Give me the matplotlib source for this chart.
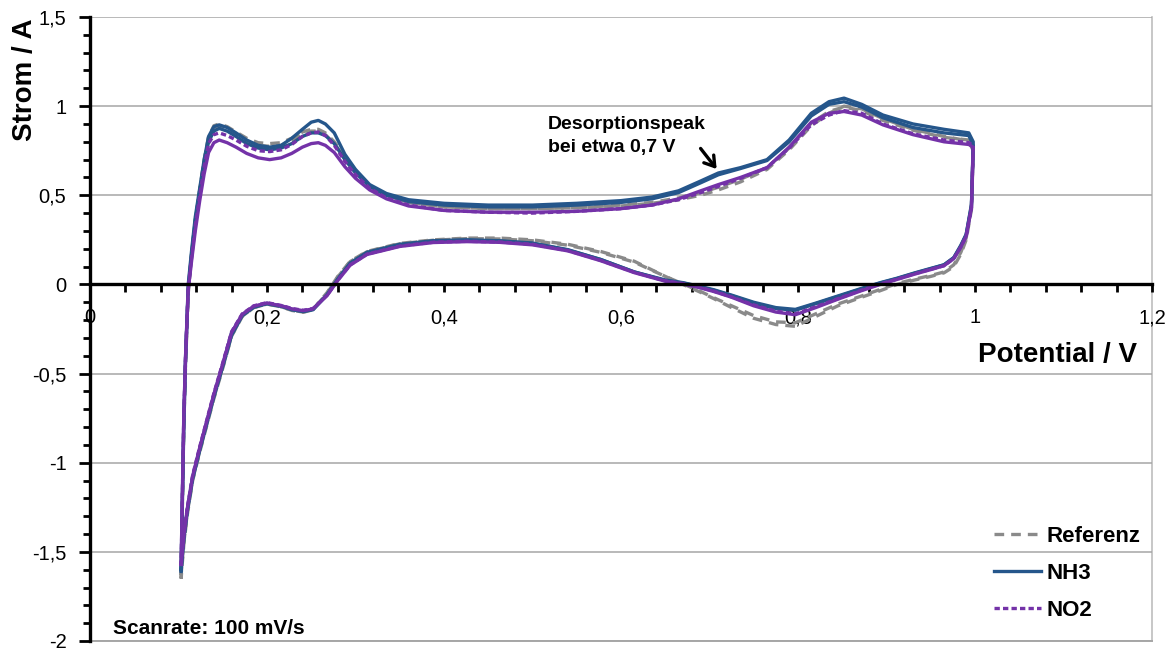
import matplotlib
matplotlib.use("Agg")
import matplotlib.pyplot as plt
from matplotlib.ticker import MultipleLocator, FuncFormatter

plt.rcParams['font.family'] = ['Liberation Sans', 'DejaVu Sans']

# ---- Potential grids (V) ----
potential_anodic = [0.103, 0.104, 0.106, 0.108, 0.111, 0.115, 0.119, 0.124, 0.129, 0.134,
                    0.140, 0.146, 0.155, 0.165, 0.177, 0.190, 0.203, 0.216, 0.228, 0.240,
                    0.250, 0.258, 0.266, 0.276, 0.288, 0.300, 0.316, 0.335, 0.360, 0.400,
                    0.450, 0.500, 0.550, 0.600, 0.635, 0.665, 0.690, 0.710, 0.735, 0.765,
                    0.790, 0.815, 0.835, 0.852, 0.872, 0.896, 0.930, 0.965, 0.993]
potential_cathodic = [0.998, 0.996, 0.990, 0.984, 0.976, 0.965, 0.950, 0.932, 0.912, 0.893,
                      0.870, 0.845, 0.820, 0.797, 0.775, 0.750, 0.725, 0.705, 0.688, 0.670,
                      0.650, 0.615, 0.577, 0.540, 0.500, 0.463, 0.426, 0.388, 0.350, 0.313,
                      0.294, 0.280, 0.268, 0.252, 0.241, 0.228, 0.218, 0.200, 0.185, 0.172,
                      0.160, 0.150, 0.140, 0.132, 0.124, 0.116, 0.110, 0.106, 0.104, 0.103]

# ---- Currents (A), two cycles per gas ----
ref_1_anodic = [-1.65, -1.35, -0.80, -0.45, -0.05, 0.17, 0.35, 0.53, 0.70, 0.83,
                0.89, 0.90, 0.885, 0.855, 0.82, 0.795, 0.79, 0.795, 0.82, 0.855,
                0.87, 0.87, 0.85, 0.80, 0.72, 0.64, 0.55, 0.50, 0.46, 0.435,
                0.425, 0.425, 0.43, 0.44, 0.455, 0.475, 0.50, 0.53, 0.575, 0.645,
                0.755, 0.89, 0.96, 1.0, 0.985, 0.93, 0.87, 0.83, 0.805]
ref_1_cathodic = [0.75, 0.42, 0.25, 0.17, 0.10, 0.065, 0.045, 0.025, 0.0, -0.035,
                  -0.075, -0.12, -0.18, -0.235, -0.225, -0.19, -0.13, -0.08, -0.04, 0.0,
                  0.045, 0.13, 0.185, 0.225, 0.25, 0.26, 0.26, 0.25, 0.23, 0.185,
                  0.13, 0.045, -0.045, -0.14, -0.155, -0.145, -0.128, -0.11, -0.13, -0.18,
                  -0.29, -0.47, -0.64, -0.79, -0.94, -1.10, -1.29, -1.46, -1.58, -1.65]
ref_2_anodic = [-1.63, -1.33, -0.78, -0.43, -0.03, 0.18, 0.36, 0.53, 0.69, 0.82,
                0.875, 0.885, 0.87, 0.84, 0.80, 0.78, 0.775, 0.78, 0.81, 0.845,
                0.86, 0.86, 0.84, 0.79, 0.71, 0.635, 0.55, 0.50, 0.46, 0.435,
                0.425, 0.425, 0.43, 0.445, 0.46, 0.485, 0.515, 0.545, 0.59, 0.655,
                0.765, 0.905, 0.97, 0.995, 0.975, 0.92, 0.865, 0.825, 0.81]
ref_2_cathodic = [0.77, 0.44, 0.26, 0.18, 0.11, 0.07, 0.05, 0.03, 0.005, -0.028,
                  -0.068, -0.11, -0.165, -0.215, -0.21, -0.175, -0.12, -0.075, -0.035, 0.003,
                  0.045, 0.125, 0.18, 0.22, 0.245, 0.255, 0.257, 0.248, 0.228, 0.183,
                  0.128, 0.042, -0.048, -0.142, -0.156, -0.146, -0.128, -0.11, -0.13, -0.178,
                  -0.288, -0.465, -0.635, -0.785, -0.935, -1.095, -1.28, -1.45, -1.56, -1.63]

nh3_1_anodic = [-1.60, -1.30, -0.75, -0.40, 0.00, 0.20, 0.38, 0.54, 0.70, 0.83,
                0.885, 0.895, 0.88, 0.85, 0.81, 0.78, 0.77, 0.78, 0.82, 0.87,
                0.91, 0.92, 0.90, 0.85, 0.73, 0.645, 0.56, 0.51, 0.475, 0.455,
                0.445, 0.445, 0.455, 0.47, 0.49, 0.525, 0.58, 0.625, 0.655, 0.70,
                0.81, 0.96, 1.025, 1.045, 1.01, 0.95, 0.90, 0.87, 0.85]
nh3_1_cathodic = [0.80, 0.45, 0.28, 0.22, 0.15, 0.11, 0.09, 0.065, 0.035, 0.01,
                  -0.025, -0.065, -0.105, -0.14, -0.13, -0.10, -0.06, -0.03, -0.01, 0.01,
                  0.025, 0.07, 0.14, 0.195, 0.232, 0.245, 0.25, 0.245, 0.225, 0.18,
                  0.12, 0.03, -0.056, -0.14, -0.15, -0.14, -0.123, -0.106, -0.125, -0.17,
                  -0.27, -0.45, -0.62, -0.77, -0.92, -1.08, -1.26, -1.42, -1.53, -1.60]
nh3_2_anodic = [-1.60, -1.32, -0.80, -0.42, -0.02, 0.18, 0.36, 0.52, 0.68, 0.80,
                0.86, 0.875, 0.86, 0.83, 0.79, 0.765, 0.755, 0.765, 0.79, 0.83,
                0.85, 0.85, 0.835, 0.79, 0.70, 0.625, 0.55, 0.50, 0.465, 0.445,
                0.435, 0.435, 0.445, 0.46, 0.48, 0.515, 0.57, 0.615, 0.65, 0.695,
                0.80, 0.945, 1.01, 1.025, 0.995, 0.935, 0.88, 0.85, 0.835]
nh3_2_cathodic = [0.78, 0.44, 0.28, 0.215, 0.15, 0.11, 0.088, 0.063, 0.033, 0.008,
                  -0.028, -0.068, -0.108, -0.145, -0.135, -0.105, -0.063, -0.033, -0.012, 0.008,
                  0.022, 0.07, 0.14, 0.193, 0.23, 0.243, 0.248, 0.243, 0.222, 0.178,
                  0.118, 0.03, -0.058, -0.142, -0.152, -0.142, -0.125, -0.108, -0.128, -0.175,
                  -0.285, -0.46, -0.63, -0.78, -0.93, -1.09, -1.27, -1.43, -1.54, -1.61]

no2_1_anodic = [-1.58, -1.28, -0.74, -0.40, -0.02, 0.16, 0.33, 0.50, 0.66, 0.79,
                0.84, 0.85, 0.835, 0.81, 0.775, 0.75, 0.745, 0.755, 0.785, 0.83,
                0.85, 0.855, 0.835, 0.78, 0.69, 0.615, 0.54, 0.485, 0.445, 0.415,
                0.405, 0.40, 0.41, 0.425, 0.445, 0.475, 0.515, 0.55, 0.595, 0.655,
                0.765, 0.895, 0.95, 0.975, 0.96, 0.90, 0.845, 0.81, 0.795]
no2_1_cathodic = [0.78, 0.43, 0.27, 0.21, 0.145, 0.105, 0.085, 0.06, 0.03, 0.003,
                  -0.035, -0.08, -0.125, -0.165, -0.15, -0.115, -0.07, -0.038, -0.015, 0.005,
                  0.02, 0.068, 0.135, 0.19, 0.225, 0.238, 0.242, 0.237, 0.215, 0.17,
                  0.11, 0.025, -0.06, -0.135, -0.145, -0.135, -0.12, -0.102, -0.12, -0.165,
                  -0.265, -0.44, -0.61, -0.76, -0.91, -1.07, -1.25, -1.40, -1.51, -1.58]
no2_2_anodic = [-1.57, -1.27, -0.73, -0.40, -0.03, 0.14, 0.30, 0.47, 0.62, 0.74,
                0.795, 0.81, 0.795, 0.77, 0.735, 0.71, 0.70, 0.71, 0.735, 0.77,
                0.79, 0.795, 0.78, 0.74, 0.66, 0.595, 0.53, 0.48, 0.44, 0.415,
                0.405, 0.405, 0.41, 0.425, 0.445, 0.48, 0.525, 0.56, 0.60, 0.655,
                0.77, 0.91, 0.96, 0.97, 0.95, 0.895, 0.84, 0.80, 0.785]
no2_2_cathodic = [0.77, 0.43, 0.27, 0.21, 0.145, 0.105, 0.083, 0.058, 0.028, 0.0,
                  -0.038, -0.083, -0.13, -0.17, -0.155, -0.12, -0.072, -0.04, -0.017, 0.003,
                  0.018, 0.066, 0.133, 0.188, 0.222, 0.236, 0.24, 0.235, 0.213, 0.168,
                  0.108, 0.022, -0.062, -0.137, -0.147, -0.137, -0.122, -0.104, -0.122, -0.168,
                  -0.27, -0.445, -0.615, -0.765, -0.915, -1.075, -1.255, -1.41, -1.52, -1.57]

series_labels = ["Referenz", "NH3", "NO2"]
x_ticks = [0, 0.2, 0.4, 0.6, 0.8, 1.0, 1.2]
y_ticks = [-2, -1.5, -1, -0.5, 0, 0.5, 1, 1.5]

GRAY = "#8a8a8a"
BLUE = "#25568b"
PURPLE = "#7432a8"

W, H = 1173, 652
fig = plt.figure(figsize=(W / 100, H / 100), dpi=100)
ax = fig.add_axes([90 / W, 1 - 641 / H, (1152 - 90) / W, (641 - 17) / H])
ax.set_xlim(0, 1.2)
ax.set_ylim(-2, 1.5)


def loop(anodic, cathodic):
    return potential_anodic + potential_cathodic, anodic + cathodic


lw = 2.4
dash_ref = (2.9, 2.1)
dash_no2 = (1.6, 0.95)
common = dict(lw=lw, solid_joinstyle="round", dash_joinstyle="round")

x, y = loop(ref_1_anodic, ref_1_cathodic)
ax.plot(x, y, color=GRAY, dashes=dash_ref, label=series_labels[0], **common)
x, y = loop(ref_2_anodic, ref_2_cathodic)
ax.plot(x, y, color=GRAY, dashes=dash_ref, **common)

x, y = loop(nh3_1_anodic, nh3_1_cathodic)
ax.plot(x, y, color=BLUE, label=series_labels[1], **common)
x, y = loop(nh3_2_anodic, nh3_2_cathodic)
ax.plot(x, y, color=BLUE, **common)

x, y = loop(no2_1_anodic, no2_1_cathodic)
ax.plot(x, y, color=PURPLE, dashes=dash_no2, label=series_labels[2], **common)
x, y = loop(no2_2_anodic, no2_2_cathodic)
ax.plot(x, y, color=PURPLE, **common)

# Axes styling
for side in ("top", "right"):
    ax.spines[side].set_visible(False)
ax.spines["bottom"].set_position(("data", 0))
ax.spines["left"].set_position(("data", 0))
for side in ("left", "bottom"):
    ax.spines[side].set_linewidth(2.4)
    ax.spines[side].set_color("black")

ax.set_yticks(y_ticks)
ax.yaxis.set_minor_locator(MultipleLocator(0.1))
ax.set_xticks(x_ticks)
ax.xaxis.set_minor_locator(MultipleLocator(0.04))


def comma_fmt(v, pos=None):
    s = f"{v:.1f}".rstrip("0").rstrip(".")
    if s == "-0":
        s = "0"
    return s.replace(".", ",")


ax.xaxis.set_major_formatter(FuncFormatter(comma_fmt))
ax.yaxis.set_major_formatter(FuncFormatter(comma_fmt))

ax.tick_params(axis="y", which="major", direction="out", length=8, width=2, pad=9,
               labelsize=14.5)
ax.tick_params(axis="y", which="minor", direction="out", length=5, width=2)
ax.tick_params(axis="x", which="both", direction="out", length=6, width=2, pad=11,
               labelsize=14.5)

ax.grid(axis="y", which="major", color="#a6a6a6", lw=1.1)
ax.set_axisbelow(True)
ax.axvline(1.2, color="#bdbdbd", lw=1.2, clip_on=False, zorder=0)
ax.axhline(-2, color="#a6a6a6", lw=1.4, clip_on=False, zorder=0)

# Axis titles
fig.text(25 / W, 1 - 80 / H, "Strom / A", rotation=90, ha="center", va="center",
         fontsize=20, fontweight="bold")
fig.text(1137 / W, 1 - 355 / H, "Potential / V", ha="right", va="center",
         fontsize=20, fontweight="bold")

# Annotations
ax.text(0.5175, 0.945, "Desorptionspeak\nbei etwa 0,7 V", ha="left", va="top",
        fontsize=14, fontweight="bold", linespacing=1.45)
ax.annotate("", xy=(0.71, 0.635), xytext=(0.688, 0.775),
            arrowprops=dict(arrowstyle="->, head_length=0.7, head_width=0.45",
                            color="black", lw=2.4))
ax.text(0.026, -1.93, "Scanrate: 100 mV/s", ha="left", va="center",
        fontsize=15, fontweight="bold")

leg = ax.legend(loc="lower right", bbox_to_anchor=(1140 / W, 1 - 621 / H),
                bbox_transform=fig.transFigure, frameon=False, fontsize=16,
                handlelength=2.1, handletextpad=0.25, labelspacing=0.72,
                borderaxespad=0, borderpad=0)
for t in leg.get_texts():
    t.set_fontweight("bold")

fig.savefig("out.png", dpi=100)
